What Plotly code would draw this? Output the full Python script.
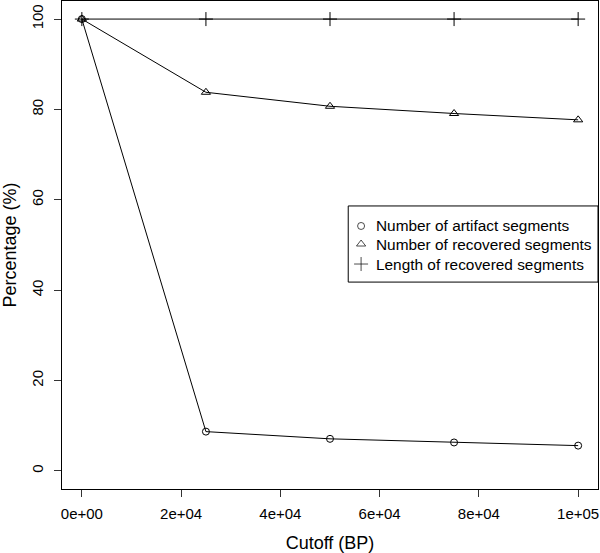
import plotly.graph_objects as go

cutoff = [0, 25000, 50000, 75000, 100000]
artifact_pct = [100, 8.7, 7.1, 6.3, 5.6]
recovered_num_pct = [100, 83.8, 80.7, 79.1, 77.7]
recovered_len_pct = [100, 100, 100, 100, 100]

x_ticks = [0, 20000, 40000, 60000, 80000, 100000]
x_ticklabels = ["0e+00", "2e+04", "4e+04", "6e+04", "8e+04", "1e+05"]
y_ticks = [0, 20, 40, 60, 80, 100]

legend_names = ["Number of artifact segments",
                "Number of recovered segments",
                "Length of recovered segments"]
symbols = ["circle-open", "triangle-up-open", "cross-thin-open"]
sizes = [7, 8, 10]

font = dict(family="Liberation Sans, Arial, sans-serif", size=15, color="black")
legend_font = dict(font, size=15.4)

fig = go.Figure()

for vals, sym, size in zip([artifact_pct, recovered_num_pct, recovered_len_pct], symbols, sizes):
    fig.add_trace(go.Scatter(
        x=cutoff, y=vals, mode="lines+markers",
        line=dict(color="black", width=1),
        marker=dict(symbol=sym, size=size, color="black", line=dict(width=1, color="black")),
        showlegend=False, hoverinfo="skip",
    ))

# R-style legend box: symbols on an overlay axis in 0..1 units, text as annotations
leg_x0, leg_x1, leg_y0, leg_y1 = 0.534, 1.0, 0.424, 0.580
sym_x, text_x = 0.558, 0.582
row_y = [0.539, 0.502, 0.461]

fig.add_shape(type="rect", xref="paper", yref="paper",
              x0=leg_x0, x1=leg_x1, y0=leg_y0, y1=leg_y1,
              line=dict(color="black", width=1), fillcolor="white", layer="below")

fig.add_trace(go.Scatter(
    x=[sym_x] * 3, y=row_y, mode="markers", xaxis="x2", yaxis="y2",
    marker=dict(symbol=symbols, size=sizes, color="black", line=dict(width=1, color="black")),
    showlegend=False, hoverinfo="skip",
))
for name, yy in zip(legend_names, row_y):
    fig.add_annotation(x=text_x, y=yy, xref="paper", yref="paper", text=name,
                       showarrow=False, xanchor="left", yanchor="middle", font=legend_font)

axis_common = dict(showgrid=False, zeroline=False, showline=True, linecolor="black",
                   linewidth=1, mirror=True, ticks="outside", ticklen=7,
                   tickcolor="#333", automargin=False)

fig.update_layout(
    width=600, height=553,
    margin=dict(l=62, r=2, t=1, b=64),
    paper_bgcolor="white", plot_bgcolor="white",
    font=font,
    showlegend=False,
    xaxis=dict(range=[-4000, 104000], tickvals=x_ticks, ticktext=x_ticklabels,
               ticklabelstandoff=4, title=dict(text="Cutoff (BP)", standoff=17),
               **axis_common),
    yaxis=dict(range=[-4, 104], tickvals=y_ticks, tickangle=-90,
               ticklabelstandoff=5, title=dict(text="Percentage (%)", standoff=12),
               **axis_common),
    xaxis2=dict(range=[0, 1], overlaying="x", visible=False, fixedrange=True),
    yaxis2=dict(range=[0, 1], overlaying="y", visible=False, fixedrange=True),
)

# drop the browser's default body margin so the figure sits at the window's corner
fig.write_html("out.html", config={"displayModeBar": False},
               post_script="document.body.style.margin='0';")
